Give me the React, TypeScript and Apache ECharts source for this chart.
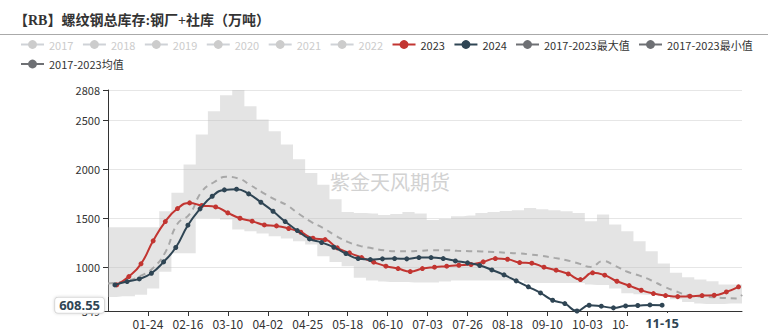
import React, { useEffect, useRef } from 'react';
import * as echarts from 'echarts';

const TITLE = '【RB】螺纹钢总库存:钢厂+社库（万吨）';
const WATERMARK = '紫金天风期货';

// Category axis: every day of a (leap) calendar year as MM-DD
const MONTH_DAYS = [31, 29, 31, 30, 31, 30, 31, 31, 30, 31, 30, 31];
const categories: string[] = [];
MONTH_DAYS.forEach((n, m) => {
  for (let d = 1; d <= n; d++) {
    categories.push(`${String(m + 1).padStart(2, '0')}-${String(d).padStart(2, '0')}`);
  }
});

const hiddenYears = ['2017', '2018', '2019', '2020', '2021', '2022'];
const NAME_MAX = '2017-2023最大值';
const NAME_MIN = '2017-2023最小值';
const NAME_MEAN = '2017-2023均值';

const dates2023 = [
  '01-06', '01-13', '01-20', '01-27', '02-03', '02-10', '02-17', '02-24',
  '03-03', '03-10', '03-17', '03-24', '03-31', '04-07', '04-14', '04-21', '04-28',
  '05-05', '05-12', '05-19', '05-26', '06-02', '06-09', '06-16', '06-23', '06-30',
  '07-07', '07-14', '07-21', '07-28', '08-04', '08-11', '08-18', '08-25',
  '09-01', '09-08', '09-15', '09-22', '09-29', '10-06', '10-13', '10-20', '10-27',
  '11-03', '11-10', '11-17', '11-24', '12-01', '12-08', '12-15', '12-22', '12-29',
];
const values2023 = [
  816, 901, 1031, 1266, 1463, 1596, 1654, 1627, 1613, 1552,
  1497, 1467, 1429, 1419, 1392, 1354, 1293, 1279, 1194, 1143,
  1095, 1048, 1007, 983, 952, 983, 997, 1007, 1017, 1024,
  1051, 1085, 1078, 1044, 1038, 997, 966, 928, 870, 939,
  915, 853, 809, 761, 727, 707, 696, 700, 707, 710,
  744, 796,
];

const dates2024 = [
  '01-05', '01-12', '01-19', '01-26', '02-02', '02-09', '02-16', '02-23',
  '03-01', '03-08', '03-15', '03-22', '03-29', '04-05', '04-12', '04-19', '04-26',
  '05-03', '05-10', '05-17', '05-24', '05-31', '06-07', '06-14', '06-21', '06-28',
  '07-05', '07-12', '07-19', '07-26', '08-02', '08-09', '08-16', '08-23', '08-30',
  '09-06', '09-13', '09-20', '09-27', '10-04', '10-11', '10-18', '10-25',
  '11-01', '11-08', '11-15',
];
const values2024 = [
  816, 850, 877, 935, 1051, 1198, 1426, 1593, 1722, 1787,
  1794, 1746, 1661, 1569, 1463, 1371, 1286, 1249, 1201, 1136,
  1085, 1075, 1082, 1085, 1082, 1095, 1095, 1085, 1061, 1041,
  1014, 969, 918, 857, 796, 734, 659, 625, 549, 608,
  598, 581, 601, 605, 611, 608.55,
];

const bandDates = [
  '01-01', '01-06', '01-13', '01-20', '01-27', '02-03', '02-10', '02-17', '02-24',
  '03-02', '03-09', '03-16', '03-23', '03-30', '04-06', '04-13', '04-20', '04-27',
  '05-04', '05-11', '05-18', '05-25', '06-01', '06-08', '06-15', '06-22', '06-29',
  '07-06', '07-13', '07-20', '07-27', '08-03', '08-10', '08-17', '08-24', '08-31',
  '09-07', '09-14', '09-21', '09-28', '10-05', '10-12', '10-19', '10-26',
  '11-02', '11-09', '11-16', '11-23', '11-30', '12-07', '12-14', '12-21', '12-28', '12-31',
];
const maxValues = [
  1406,
  1406, 1406, 1406, 1406, 1569, 1757, 2046, 2353, 2592, 2755,
  2808, 2643, 2506, 2387, 2251, 2100, 1960, 1840, 1690, 1560,
  1550, 1545, 1530, 1540, 1560, 1545, 1480, 1490, 1518, 1525,
  1552, 1560, 1570, 1580, 1603, 1590, 1580, 1569, 1552, 1467,
  1535, 1433, 1365, 1262, 1160, 1034, 939, 894, 870, 853,
  819, 819,
  819,
];
const minValues = [
  693,
  693, 700, 715, 780, 950, 1140, 1140, 1500, 1500, 1484,
  1382, 1365, 1341, 1314, 1290, 1262, 1230, 1109, 1050, 1007,
  888, 860, 850, 845, 845, 840, 840, 850, 860, 860,
  860, 860, 860, 860, 835, 835, 835, 835, 835, 820,
  815, 780, 730, 720, 715, 700, 670, 640, 625, 620,
  620, 625,
  625,
];
const meanValues = [
  830,
  840, 860, 910, 990, 1150, 1440, 1540, 1770, 1865, 1920,
  1905, 1835, 1760, 1690, 1630, 1540, 1460, 1395, 1320, 1255,
  1215, 1190, 1170, 1160, 1160, 1165, 1170, 1170, 1165, 1160,
  1158, 1152, 1145, 1138, 1127, 1112, 1092, 1068, 1035, 1000,
  1060, 1010, 950, 910, 860, 800, 750, 710, 698, 690,
  682, 678,
  715,
];

const POINTER_DATE = dates2024[dates2024.length - 1];
const POINTER_VALUE = values2024[values2024.length - 1];

const FONT = "'Noto Sans CJK SC', 'Noto Sans', sans-serif";
const GREY = '#6e7074';
const RED = '#c23531';
const NAVY = '#2f4554';

const pairs = (dates: string[], vals: number[]) => dates.map((d, i) => [d, vals[i]]);

const yMin = Math.min(...values2023, ...values2024, ...minValues);
const yMax = Math.max(...values2023, ...values2024, ...maxValues);

const tickEvery = (i: number) => i > 0 && i % 23 === 0 && i <= 322;
const labelEvery = (i: number) => i > 0 && i % 23 === 0 && i <= 299;

const summaryLegend = (name: string) => ({
  name,
  itemStyle: { color: GREY, borderWidth: 0 },
  lineStyle: { color: GREY, width: 2, type: 'solid', opacity: 1 },
});

const legendBase = {
  padding: 0,
  itemWidth: 23,
  itemHeight: 11,
  itemGap: 8.5,
  inactiveColor: '#ccc',
  textStyle: { fontSize: 11, color: '#333', fontFamily: FONT },
};

const selected: Record<string, boolean> = {};
hiddenYears.forEach((y) => (selected[y] = false));

function buildOption(): any {
  return {
    animation: false,
    backgroundColor: '#fff',
    title: {
      text: TITLE,
      left: 14,
      top: 13,
      padding: 0,
      textStyle: {
        fontSize: 14,
        fontWeight: 'bold',
        color: '#333',
        fontFamily: "'Liberation Serif', 'Noto Sans CJK SC', serif",
      },
    },
    legend: [
      { ...legendBase, left: 20, top: 39, selected, data: [...hiddenYears, '2023', '2024'] },
      { ...legendBase, left: 515, top: 39, data: [summaryLegend(NAME_MAX)] },
      { ...legendBase, left: 638, top: 39, data: [summaryLegend(NAME_MIN)] },
      { ...legendBase, left: 20, top: 58.5, data: [summaryLegend(NAME_MEAN)] },
    ],
    grid: { left: 108, right: 37, top: 90, bottom: 21, containLabel: false },
    xAxis: {
      type: 'category',
      data: categories,
      boundaryGap: false,
      axisLine: { show: true, lineStyle: { color: '#333', width: 1 } },
      axisTick: { show: true, length: 5, interval: tickEvery, lineStyle: { color: '#333' } },
      axisLabel: { interval: labelEvery, color: '#333', fontSize: 12, margin: 6, fontFamily: FONT },
      splitLine: { show: false },
      axisPointer: {
        show: true,
        type: 'none',
        status: 'show',
        value: POINTER_DATE,
        triggerTooltip: false,
        label: {
          show: true,
          color: NAVY,
          fontWeight: 'bold',
          fontSize: 13,
          fontFamily: "'Noto Sans', sans-serif",
          backgroundColor: '#fff',
          padding: [3, 17, 3, 17],
          margin: 2,
        },
      },
    },
    yAxis: {
      type: 'value',
      min: yMin,
      max: yMax,
      axisLine: { show: true, lineStyle: { color: '#333', width: 1 } },
      axisTick: { show: true, length: 5, lineStyle: { color: '#333' } },
      axisLabel: {
        color: '#333',
        fontSize: 11,
        margin: 8,
        fontFamily: FONT,
        formatter: (v: number) => String(Math.round(v)),
      },
      splitLine: { show: true, lineStyle: { color: '#e6e6e6' } },
      axisPointer: {
        show: true,
        type: 'none',
        status: 'show',
        value: POINTER_VALUE,
        triggerTooltip: false,
        label: {
          show: true,
          formatter: (p: any) => Number(p.value).toFixed(2),
          color: NAVY,
          fontWeight: 'bold',
          fontSize: 13,
          fontFamily: "'Noto Sans', sans-serif",
          backgroundColor: '#fff',
          borderColor: '#d8d8d8',
          borderWidth: 1,
          borderRadius: 3,
          shadowBlur: 3,
          shadowColor: 'rgba(0,0,0,0.15)',
          padding: [1, 4, 1, 4],
          margin: 4,
        },
      },
    },
    graphic: [
      {
        type: 'line',
        shape: { x1: 0, y1: 34.5, x2: 768, y2: 34.5 },
        style: { stroke: '#aaa', lineWidth: 1 },
        silent: true,
      },
      {
        type: 'text',
        left: 330,
        top: 171,
        z: 0,
        silent: true,
        style: { text: WATERMARK, fontSize: 20, fill: '#d2d2d2', fontFamily: FONT },
      },
    ],
    series: [
      ...hiddenYears.map((y) => ({ name: y, type: 'line', data: [], symbol: 'circle' })),
      {
        name: NAME_MIN,
        type: 'line',
        data: pairs(bandDates, minValues),
        stack: 'band',
        step: 'middle',
        symbol: 'none',
        itemStyle: { color: GREY },
        lineStyle: { width: 0, opacity: 0 },
        areaStyle: { opacity: 0 },
        z: 1,
      },
      {
        name: NAME_MAX,
        type: 'line',
        data: bandDates.map((d, i) => [d, maxValues[i] - minValues[i]]),
        stack: 'band',
        step: 'middle',
        symbol: 'none',
        itemStyle: { color: GREY },
        lineStyle: { width: 0, opacity: 0 },
        areaStyle: { color: 'rgba(190,190,190,0.42)', opacity: 1 },
        z: 1,
      },
      {
        name: NAME_MEAN,
        type: 'line',
        data: pairs(bandDates, meanValues),
        smooth: true,
        symbol: 'none',
        itemStyle: { color: GREY },
        lineStyle: { color: '#a8a8a8', width: 2, type: [6, 5] },
        z: 2,
      },
      {
        name: '2023',
        type: 'line',
        data: pairs(dates2023, values2023),
        smooth: true,
        symbol: 'circle',
        symbolSize: 5,
        showSymbol: true,
        showAllSymbol: true,
        itemStyle: { color: RED },
        lineStyle: { color: RED, width: 2 },
        z: 3,
      },
      {
        name: '2024',
        type: 'line',
        data: pairs(dates2024, values2024),
        smooth: true,
        symbol: 'circle',
        symbolSize: 5,
        showSymbol: true,
        showAllSymbol: true,
        itemStyle: { color: NAVY },
        lineStyle: { color: NAVY, width: 2 },
        z: 4,
      },
    ],
  };
}

export default function App() {
  const ref = useRef<HTMLDivElement>(null);
  useEffect(() => {
    if (!ref.current) return;
    const chart = echarts.init(ref.current, undefined, { renderer: 'svg' });
    chart.setOption(buildOption());
    return () => chart.dispose();
  }, []);
  return (
    <div
      ref={ref}
      style={{ position: 'absolute', left: 0, top: 0, width: 779, height: 332 }}
    />
  );
}
